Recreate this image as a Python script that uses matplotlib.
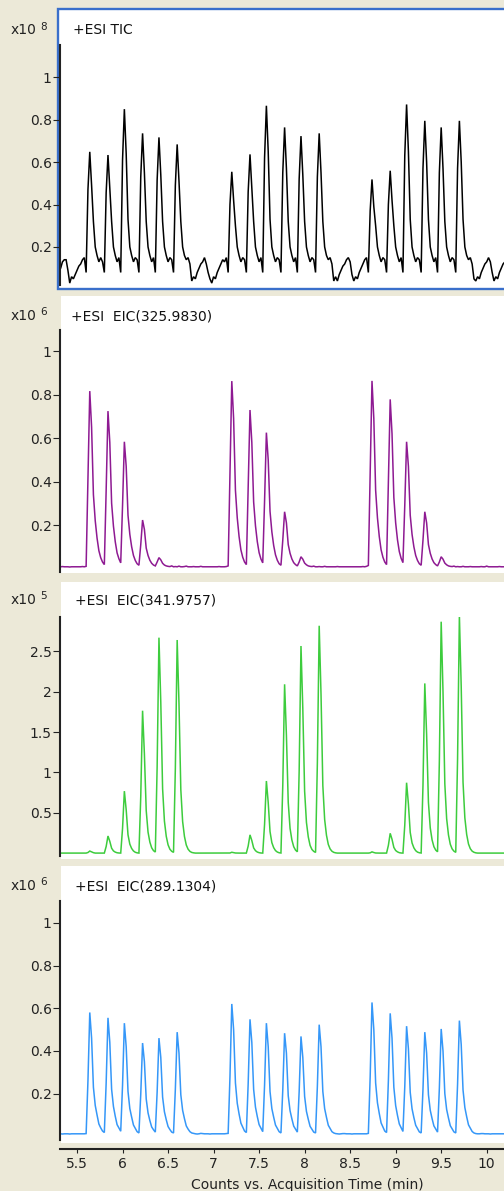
import numpy as np
import matplotlib
matplotlib.use("Agg")
import matplotlib.pyplot as plt
from matplotlib.patches import Rectangle

# sampling grid of the chromatograms (min)
time_min = np.linspace(5.30, 10.20, 246)

# +ESI TIC  (x10^8 counts)
tic = [
    0.09, 0.10, 0.13, 0.14, 0.14, 0.09, 0.03, 0.06, 0.05, 0.07,
    0.09, 0.11, 0.12, 0.14, 0.15, 0.08, 0.47, 0.648, 0.49, 0.32,
    0.20, 0.16, 0.13, 0.15, 0.13, 0.08, 0.456, 0.633, 0.475, 0.32,
    0.20, 0.16, 0.13, 0.15, 0.08, 0.61, 0.849, 0.64, 0.33, 0.20,
    0.16, 0.13, 0.15, 0.14, 0.08, 0.53, 0.735, 0.55, 0.32, 0.20,
    0.16, 0.13, 0.15, 0.08, 0.515, 0.716, 0.54, 0.32, 0.20, 0.16,
    0.13, 0.15, 0.14, 0.08, 0.49, 0.683, 0.51, 0.32, 0.20, 0.16,
    0.14, 0.15, 0.12, 0.04, 0.06, 0.05, 0.08, 0.10, 0.12, 0.13,
    0.15, 0.12, 0.08, 0.05, 0.03, 0.06, 0.05, 0.08, 0.10, 0.12,
    0.14, 0.13, 0.15, 0.08, 0.40, 0.554, 0.42, 0.30, 0.20, 0.16,
    0.13, 0.15, 0.14, 0.08, 0.46, 0.636, 0.48, 0.32, 0.20, 0.16,
    0.13, 0.15, 0.08, 0.62, 0.865, 0.65, 0.33, 0.20, 0.16, 0.13,
    0.15, 0.14, 0.08, 0.55, 0.763, 0.57, 0.32, 0.20, 0.16, 0.13,
    0.15, 0.08, 0.52, 0.722, 0.54, 0.32, 0.20, 0.16, 0.13, 0.15,
    0.14, 0.08, 0.53, 0.735, 0.55, 0.32, 0.20, 0.16, 0.14, 0.15,
    0.12, 0.04, 0.06, 0.04, 0.07, 0.09, 0.11, 0.12, 0.14, 0.15,
    0.13, 0.07, 0.04, 0.06, 0.05, 0.08, 0.10, 0.12, 0.14, 0.15,
    0.08, 0.37, 0.518, 0.39, 0.30, 0.20, 0.16, 0.13, 0.15, 0.14,
    0.08, 0.40, 0.559, 0.42, 0.30, 0.20, 0.16, 0.13, 0.15, 0.08,
    0.63, 0.871, 0.65, 0.33, 0.20, 0.16, 0.13, 0.15, 0.14, 0.08,
    0.57, 0.794, 0.60, 0.33, 0.20, 0.16, 0.13, 0.15, 0.08, 0.55,
    0.763, 0.57, 0.32, 0.20, 0.16, 0.13, 0.15, 0.14, 0.08, 0.57,
    0.794, 0.60, 0.33, 0.20, 0.16, 0.14, 0.15, 0.12, 0.05, 0.04,
    0.06, 0.05, 0.08, 0.10, 0.12, 0.13, 0.15, 0.13, 0.08, 0.04,
    0.06, 0.05, 0.08, 0.10, 0.12, 0.13,
]

# +ESI EIC(325.9830)  (x10^6 counts)
eic_325 = [
    0.008, 0.008, 0.009, 0.008, 0.008, 0.008, 0.007, 0.008, 0.008, 0.008,
    0.008, 0.008, 0.008, 0.009, 0.008, 0.010, 0.41, 0.816, 0.65, 0.34,
    0.22, 0.14, 0.082, 0.05, 0.03, 0.018, 0.36, 0.724, 0.58, 0.30,
    0.195, 0.123, 0.072, 0.045, 0.026, 0.29, 0.583, 0.47, 0.245, 0.157,
    0.10, 0.06, 0.037, 0.022, 0.015, 0.11, 0.223, 0.18, 0.094, 0.06,
    0.038, 0.024, 0.016, 0.012, 0.03, 0.05, 0.04, 0.024, 0.016, 0.012,
    0.010, 0.009, 0.012, 0.008, 0.009, 0.008, 0.011, 0.008, 0.008, 0.009,
    0.011, 0.008, 0.008, 0.008, 0.009, 0.008, 0.008, 0.008, 0.010, 0.008,
    0.008, 0.008, 0.008, 0.008, 0.008, 0.008, 0.008, 0.008, 0.009, 0.008,
    0.008, 0.008, 0.009, 0.012, 0.43, 0.862, 0.69, 0.36, 0.233, 0.147,
    0.086, 0.052, 0.03, 0.018, 0.365, 0.729, 0.58, 0.306, 0.197, 0.124,
    0.073, 0.044, 0.026, 0.31, 0.625, 0.50, 0.263, 0.169, 0.106, 0.063,
    0.038, 0.022, 0.015, 0.13, 0.261, 0.21, 0.11, 0.07, 0.044, 0.027,
    0.018, 0.012, 0.03, 0.054, 0.043, 0.025, 0.017, 0.012, 0.010, 0.009,
    0.011, 0.008, 0.008, 0.009, 0.008, 0.008, 0.010, 0.008, 0.008, 0.008,
    0.008, 0.008, 0.008, 0.009, 0.008, 0.008, 0.008, 0.008, 0.008, 0.008,
    0.008, 0.008, 0.008, 0.008, 0.008, 0.008, 0.008, 0.009, 0.008, 0.010,
    0.014, 0.43, 0.863, 0.69, 0.36, 0.233, 0.147, 0.086, 0.052, 0.03,
    0.018, 0.39, 0.778, 0.62, 0.327, 0.21, 0.132, 0.078, 0.047, 0.027,
    0.29, 0.583, 0.47, 0.245, 0.157, 0.10, 0.06, 0.037, 0.022, 0.015,
    0.13, 0.261, 0.21, 0.11, 0.07, 0.044, 0.027, 0.018, 0.012, 0.03,
    0.054, 0.043, 0.025, 0.017, 0.012, 0.010, 0.009, 0.011, 0.008, 0.009,
    0.008, 0.008, 0.010, 0.008, 0.008, 0.008, 0.009, 0.008, 0.008, 0.008,
    0.008, 0.008, 0.009, 0.008, 0.008, 0.011, 0.008, 0.008, 0.008, 0.008,
    0.008, 0.008, 0.009, 0.008, 0.008, 0.008,
]

# +ESI EIC(341.9757)  (x10^5 counts)
eic_341 = [
    0.005, 0.005, 0.005, 0.005, 0.005, 0.005, 0.005, 0.005, 0.005, 0.005,
    0.005, 0.005, 0.005, 0.005, 0.005, 0.005, 0.012, 0.03, 0.02, 0.01,
    0.005, 0.005, 0.005, 0.005, 0.005, 0.005, 0.086, 0.216, 0.15, 0.065,
    0.032, 0.017, 0.009, 0.006, 0.005, 0.31, 0.77, 0.54, 0.23, 0.115,
    0.062, 0.031, 0.015, 0.008, 0.005, 0.705, 1.763, 1.23, 0.53, 0.264,
    0.141, 0.07, 0.035, 0.018, 1.07, 2.665, 1.87, 0.80, 0.40, 0.213,
    0.107, 0.053, 0.027, 0.014, 1.05, 2.636, 1.85, 0.79, 0.395, 0.21,
    0.105, 0.053, 0.026, 0.013, 0.008, 0.005, 0.005, 0.005, 0.005, 0.005,
    0.005, 0.005, 0.005, 0.005, 0.005, 0.005, 0.005, 0.005, 0.005, 0.005,
    0.005, 0.005, 0.005, 0.005, 0.006, 0.015, 0.010, 0.006, 0.005, 0.005,
    0.005, 0.005, 0.005, 0.005, 0.092, 0.23, 0.16, 0.069, 0.035, 0.018,
    0.010, 0.006, 0.005, 0.36, 0.895, 0.63, 0.27, 0.134, 0.072, 0.036,
    0.018, 0.009, 0.006, 0.84, 2.089, 1.46, 0.63, 0.31, 0.167, 0.084,
    0.042, 0.021, 1.02, 2.562, 1.79, 0.77, 0.384, 0.205, 0.10, 0.05,
    0.026, 0.013, 1.12, 2.812, 1.97, 0.84, 0.42, 0.225, 0.112, 0.056,
    0.028, 0.014, 0.008, 0.005, 0.005, 0.005, 0.005, 0.005, 0.005, 0.005,
    0.005, 0.005, 0.005, 0.005, 0.005, 0.005, 0.005, 0.005, 0.005, 0.005,
    0.005, 0.008, 0.02, 0.012, 0.006, 0.005, 0.005, 0.005, 0.005, 0.005,
    0.005, 0.10, 0.249, 0.175, 0.075, 0.037, 0.02, 0.01, 0.006, 0.005,
    0.35, 0.874, 0.61, 0.26, 0.13, 0.07, 0.035, 0.017, 0.009, 0.006,
    0.84, 2.10, 1.47, 0.63, 0.315, 0.168, 0.084, 0.042, 0.021, 1.14,
    2.862, 2.0, 0.86, 0.43, 0.229, 0.114, 0.057, 0.029, 0.014, 1.17,
    2.936, 2.06, 0.88, 0.44, 0.235, 0.117, 0.059, 0.029, 0.015, 0.008,
    0.005, 0.005, 0.005, 0.005, 0.005, 0.005, 0.005, 0.005, 0.005, 0.005,
    0.005, 0.005, 0.005, 0.005, 0.005, 0.005,
]

# +ESI EIC(289.1304)  (x10^6 counts)
eic_289 = [
    0.012, 0.012, 0.011, 0.012, 0.012, 0.012, 0.011, 0.012, 0.012, 0.012,
    0.012, 0.012, 0.012, 0.012, 0.012, 0.013, 0.26, 0.58, 0.46, 0.23,
    0.145, 0.10, 0.058, 0.04, 0.025, 0.018, 0.25, 0.555, 0.44, 0.22,
    0.14, 0.094, 0.055, 0.039, 0.024, 0.24, 0.53, 0.42, 0.21, 0.13,
    0.09, 0.053, 0.037, 0.022, 0.016, 0.197, 0.437, 0.35, 0.175, 0.11,
    0.074, 0.044, 0.031, 0.02, 0.207, 0.46, 0.37, 0.184, 0.115, 0.078,
    0.046, 0.032, 0.02, 0.016, 0.22, 0.488, 0.39, 0.195, 0.122, 0.083,
    0.049, 0.034, 0.022, 0.016, 0.014, 0.012, 0.011, 0.012, 0.014, 0.013,
    0.012, 0.012, 0.012, 0.011, 0.012, 0.012, 0.012, 0.012, 0.012, 0.012,
    0.012, 0.012, 0.013, 0.014, 0.28, 0.62, 0.50, 0.25, 0.155, 0.105,
    0.062, 0.043, 0.025, 0.018, 0.247, 0.548, 0.44, 0.22, 0.137, 0.093,
    0.055, 0.038, 0.022, 0.24, 0.53, 0.42, 0.21, 0.13, 0.09, 0.053,
    0.037, 0.022, 0.016, 0.217, 0.483, 0.39, 0.19, 0.12, 0.082, 0.048,
    0.034, 0.02, 0.21, 0.468, 0.37, 0.187, 0.117, 0.08, 0.047, 0.033,
    0.02, 0.016, 0.235, 0.523, 0.42, 0.21, 0.13, 0.089, 0.052, 0.037,
    0.022, 0.016, 0.013, 0.012, 0.011, 0.012, 0.013, 0.013, 0.012, 0.012,
    0.012, 0.011, 0.012, 0.012, 0.012, 0.012, 0.012, 0.012, 0.012, 0.012,
    0.014, 0.28, 0.627, 0.50, 0.25, 0.157, 0.107, 0.063, 0.044, 0.025,
    0.018, 0.26, 0.576, 0.46, 0.23, 0.144, 0.098, 0.058, 0.04, 0.023,
    0.232, 0.516, 0.41, 0.206, 0.129, 0.088, 0.052, 0.036, 0.021, 0.016,
    0.22, 0.488, 0.39, 0.195, 0.122, 0.083, 0.049, 0.034, 0.02, 0.226,
    0.503, 0.40, 0.20, 0.126, 0.086, 0.05, 0.035, 0.021, 0.016, 0.244,
    0.542, 0.43, 0.217, 0.135, 0.092, 0.054, 0.038, 0.023, 0.016, 0.013,
    0.012, 0.012, 0.013, 0.013, 0.012, 0.012, 0.012, 0.011, 0.012, 0.012,
    0.012, 0.012, 0.012, 0.012, 0.012, 0.012,
]

titles = ["+ESI TIC", "+ESI  EIC(325.9830)", "+ESI  EIC(341.9757)", "+ESI  EIC(289.1304)"]
exponents = ["8", "6", "5", "6"]
series = [tic, eic_325, eic_341, eic_289]
colors = ["#000000", "#8E1A92", "#3DCC3D", "#3597F8"]
ytick_sets = [
    [0.2, 0.4, 0.6, 0.8, 1],
    [0.2, 0.4, 0.6, 0.8, 1],
    [0.5, 1, 1.5, 2, 2.5],
    [0.2, 0.4, 0.6, 0.8, 1],
]
ylims = [(0.021, 1.151), (-0.016, 1.097), (-0.031, 2.92), (-0.017, 1.102)]
xticks = [5.5, 6, 6.5, 7, 7.5, 8, 8.5, 9, 9.5, 10]

W, H = 504, 1191
BG = "#ECE9D8"
plt.rcParams["font.family"] = "DejaVu Sans"
plt.rcParams["font.size"] = 10

fig = plt.figure(figsize=(W / 100, H / 100), dpi=100, facecolor=BG)


def fig_box(x0, y0, x1, y1):
    # pixel box (top-left origin) -> figure fraction rect
    return [x0 / W, 1 - y1 / H, (x1 - x0) / W, (y1 - y0) / H]


# (white box top, white box bottom, axes top, axes bottom, text baseline)
layout = [
    (9, 289, 45, 285, 34.5),
    (296, 573, 330, 572, 320),
    (582, 859, 617, 856, 604),
    (866, 1143, 901, 1140, 890),
]
title_x = [73, 71, 75, 75]

for i, (wt, wb, at, ab, base) in enumerate(layout):
    wl = 58 if i == 0 else 61
    r = fig_box(wl, wt, 512, wb)
    fig.patches.append(Rectangle((r[0], r[1]), r[2], r[3], transform=fig.transFigure,
                                 facecolor="white", edgecolor="#3A6FCB" if i == 0 else "none",
                                 linewidth=1.7 if i == 0 else 0, zorder=-2))

    ax = fig.add_axes(fig_box(60, at, 504, ab))
    ax.set_facecolor("none")
    ax.plot(time_min, series[i], color=colors[i], lw=1.1, solid_joinstyle="miter")
    ax.set_xlim(5.313, 10.19)
    ax.set_ylim(*ylims[i])

    for s in ("top", "right", "bottom"):
        ax.spines[s].set_visible(False)
    ax.spines["left"].set_color("#222222")
    ax.spines["left"].set_linewidth(1.5)

    ax.set_yticks(ytick_sets[i])
    ax.set_yticklabels([f"{v:g}" for v in ytick_sets[i]])
    ax.tick_params(axis="y", direction="out", length=5, width=0.8, pad=1,
                   colors="#222222", labelsize=10)

    if i == 3:
        ax.spines["bottom"].set_visible(True)
        ax.spines["bottom"].set_position(("outward", 6.5))
        ax.spines["bottom"].set_color("#222222")
        ax.spines["bottom"].set_linewidth(1.5)
        ax.set_xticks(xticks)
        ax.set_xticklabels([f"{v:g}" for v in xticks])
        ax.tick_params(axis="x", direction="out", length=3, width=0.8, pad=3,
                       colors="#222222", labelsize=10)
    else:
        ax.set_xticks([])

    fig.text(11 / W, 1 - base / H, "x10", fontsize=10, va="baseline", ha="left", color="#222222")
    fig.text(40 / W, 1 - (base - 5) / H, exponents[i], fontsize=7.5, va="baseline", ha="left",
             color="#222222")
    fig.text(title_x[i] / W, 1 - base / H, titles[i], fontsize=10, va="baseline", ha="left",
             color="#111111")

fig.text(307 / W, 1 - 1185 / H, "Counts vs. Acquisition Time (min)", fontsize=10,
         ha="center", va="center", color="#222222")

fig.savefig("out.png", dpi=100, facecolor=BG)
